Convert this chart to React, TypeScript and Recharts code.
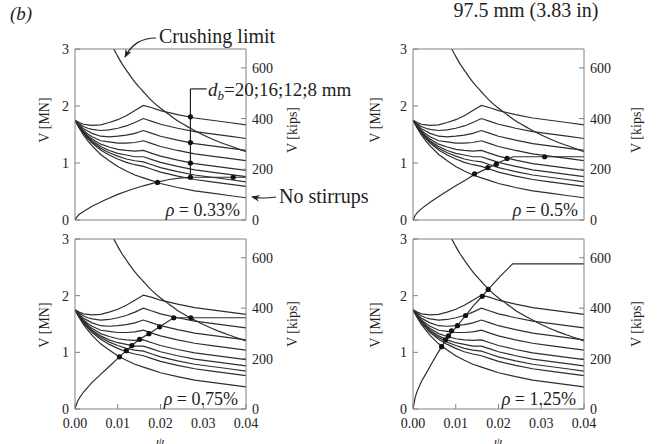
import { ComposedChart, Line, XAxis, YAxis, ReferenceLine } from 'recharts'

// rotation psi [-] and shear V [MN]
const psi = [0, 0.001, 0.002, 0.003, 0.004, 0.006, 0.008, 0.01, 0.012, 0.014, 0.016, 0.018, 0.02, 0.024, 0.028, 0.032, 0.036, 0.04]

// failure criteria (same on every panel)
const noStirrups = [1.75, 1.61, 1.49, 1.39, 1.3, 1.15, 1.04, 0.94, 0.86, 0.79, 0.74, 0.69, 0.64, 0.57, 0.51, 0.47, 0.43, 0.39]
const curveA = [1.75, 1.71, 1.68, 1.67, 1.66, 1.67, 1.71, 1.76, 1.83, 1.92, 2.01, 1.97, 1.92, 1.85, 1.79, 1.75, 1.71, 1.67]
const curveB = [1.75, 1.69, 1.64, 1.61, 1.59, 1.57, 1.58, 1.61, 1.65, 1.71, 1.78, 1.73, 1.68, 1.61, 1.55, 1.51, 1.47, 1.43]
const curveC = [1.75, 1.67, 1.6, 1.56, 1.52, 1.47, 1.46, 1.47, 1.49, 1.52, 1.57, 1.52, 1.47, 1.4, 1.34, 1.3, 1.26, 1.22]
const curveD = [1.75, 1.65, 1.57, 1.51, 1.46, 1.39, 1.37, 1.35, 1.35, 1.36, 1.39, 1.34, 1.29, 1.22, 1.16, 1.12, 1.08, 1.04]
const curveE = [1.75, 1.64, 1.55, 1.48, 1.42, 1.33, 1.28, 1.24, 1.22, 1.21, 1.22, 1.17, 1.12, 1.05, 0.99, 0.95, 0.91, 0.87]
const curveF = [1.75, 1.63, 1.54, 1.46, 1.39, 1.29, 1.22, 1.17, 1.14, 1.11, 1.11, 1.06, 1.01, 0.94, 0.88, 0.84, 0.8, 0.76]
const curveG = [1.75, 1.63, 1.53, 1.44, 1.37, 1.26, 1.18, 1.12, 1.07, 1.04, 1.02, 0.97, 0.92, 0.85, 0.79, 0.75, 0.71, 0.67]
const curveH = [1.75, 1.62, 1.52, 1.43, 1.35, 1.23, 1.14, 1.07, 1.01, 0.97, 0.94, 0.89, 0.84, 0.77, 0.71, 0.67, 0.63, 0.59]

const crushPsi = [0.0085, 0.009, 0.0095, 0.01, 0.011, 0.012, 0.013, 0.014, 0.016, 0.018, 0.02, 0.022, 0.024, 0.027, 0.03, 0.034, 0.037, 0.04]
const crushV = [3.08, 3.01, 2.94, 2.87, 2.74, 2.63, 2.52, 2.42, 2.25, 2.09, 1.96, 1.85, 1.74, 1.61, 1.49, 1.36, 1.28, 1.2]

// load-rotation curves
const rise033Psi = [0, 0.0005, 0.001, 0.002, 0.004, 0.007, 0.01, 0.013, 0.016, 0.019, 0.022, 0.025, 0.027, 0.04]
const rise033V = [0, 0.06, 0.1, 0.15, 0.24, 0.35, 0.45, 0.53, 0.6, 0.66, 0.71, 0.74, 0.75, 0.75]
const rise05Psi = [0, 0.0005, 0.001, 0.002, 0.004, 0.007, 0.01, 0.0125, 0.0144, 0.0175, 0.0195, 0.022, 0.0235, 0.04]
const rise05V = [0, 0.08, 0.13, 0.2, 0.31, 0.46, 0.6, 0.71, 0.8, 0.91, 0.99, 1.07, 1.11, 1.11]
const rise075Psi = [0, 0.0005, 0.001, 0.002, 0.004, 0.006, 0.008, 0.0104, 0.012, 0.0133, 0.0151, 0.0173, 0.0198, 0.0231, 0.04]
const rise075V = [0, 0.12, 0.19, 0.3, 0.47, 0.61, 0.75, 0.92, 1.03, 1.12, 1.23, 1.33, 1.45, 1.61, 1.61]
const rise125Psi = [0, 0.0005, 0.001, 0.002, 0.003, 0.0045, 0.0058, 0.0067, 0.0083, 0.0104, 0.0123, 0.0142, 0.0162, 0.0176, 0.0205, 0.0233, 0.04]
const rise125V = [0, 0.2, 0.32, 0.49, 0.62, 0.82, 0.99, 1.1, 1.29, 1.47, 1.65, 1.83, 1.99, 2.11, 2.35, 2.56, 2.56]

// failure points
const dots033Psi = [0.0193, 0.027, 0.027, 0.027, 0.027, 0.037]
const dots033V = [0.66, 1.81, 1.36, 1.0, 0.75, 0.75]
const dots05Psi = [0.0144, 0.0175, 0.0195, 0.022, 0.0308]
const dots05V = [0.81, 0.92, 0.98, 1.08, 1.11]
const dots075Psi = [0.0104, 0.012, 0.0133, 0.0151, 0.0173, 0.0198, 0.0231, 0.0271]
const dots075V = [0.92, 1.03, 1.12, 1.23, 1.33, 1.45, 1.61, 1.61]
const dots125Psi = [0.0067, 0.0076, 0.0083, 0.009, 0.0104, 0.0123, 0.0162, 0.0176]
const dots125V = [1.1, 1.22, 1.29, 1.38, 1.47, 1.65, 1.99, 2.11]

const xTicks = [0, 0.01, 0.02, 0.03, 0.04]
const mnTicks = [0, 1, 2, 3]
const kipTicks = [0, 200, 400, 600]
const KIPS_AT_3MN = 674.4

const dbLinePsi = 0.027
const dbLineBottom = 0.75
const dbLineTop = 2.3
const dbLeaderEnd = 0.0308

const FONT = '"Liberation Serif", "Times New Roman", serif'
const INK = '#2e2e2e'
const FRAME = '#808080'

const pts = (xs: number[], ys: number[]) => xs.map((x, i) => ({ x, y: ys[i] }))
const families = [curveA, curveB, curveC, curveD, curveE, curveF, curveG, curveH, noStirrups]

interface PanelProps {
  w: number
  h: number
  top: number
  leftW: number
  rightW: number
  bottomH: number
  showX: boolean
  risePsi: number[]
  riseV: number[]
  dotPsi: number[]
  dotV: number[]
  withDb?: boolean
}

function Panel(p: PanelProps) {
  const tickStyle = { fill: '#222', fontSize: 14, fontFamily: FONT, style: { fontFamily: FONT } }
  return (
    <ComposedChart width={p.w} height={p.h} margin={{ top: p.top, right: 0, bottom: 0, left: 0 }}>
      <XAxis xAxisId="b" dataKey="x" type="number" domain={[0, 0.04]} allowDataOverflow ticks={xTicks} interval={0}
        tickFormatter={(v: number) => v.toFixed(2)} tickSize={-5} tickMargin={14} height={p.bottomH}
        stroke={FRAME} tick={p.showX ? tickStyle : false} />
      <XAxis xAxisId="t" orientation="top" dataKey="x" type="number" domain={[0, 0.04]} allowDataOverflow ticks={xTicks}
        interval={0} tickSize={-5} height={1} stroke={FRAME} tick={false} />
      <YAxis yAxisId="mn" type="number" domain={[0, 3]} allowDataOverflow ticks={mnTicks} interval={0} width={p.leftW}
        tickSize={-5} tickMargin={11} stroke={FRAME} tick={tickStyle} />
      <YAxis yAxisId="kips" orientation="right" type="number" domain={[0, KIPS_AT_3MN]} allowDataOverflow ticks={kipTicks}
        interval={0} width={p.rightW} tickSize={-5} tickMargin={11} stroke={FRAME} tick={tickStyle} />
      {families.map((c, i) => (
        <Line key={i} xAxisId="b" yAxisId="mn" data={pts(psi, c)} dataKey="y" type="linear" stroke={INK}
          strokeWidth={1.2} dot={false} isAnimationActive={false} />
      ))}
      <Line xAxisId="b" yAxisId="mn" data={pts(crushPsi, crushV)} dataKey="y" type="monotone" stroke={INK}
        strokeWidth={1.2} dot={false} isAnimationActive={false} />
      <Line xAxisId="b" yAxisId="mn" data={pts(p.risePsi, p.riseV)} dataKey="y" type="linear" stroke={INK}
        strokeWidth={1.2} dot={false} isAnimationActive={false} />
      {p.withDb && (
        <ReferenceLine xAxisId="b" yAxisId="mn" ifOverflow="visible" stroke="#222" strokeWidth={1.2}
          segment={[{ x: dbLinePsi, y: dbLineBottom }, { x: dbLinePsi, y: dbLineTop }]} />
      )}
      {p.withDb && (
        <ReferenceLine xAxisId="b" yAxisId="mn" ifOverflow="visible" stroke="#222" strokeWidth={1.2}
          segment={[{ x: dbLinePsi, y: dbLineTop }, { x: dbLeaderEnd, y: dbLineTop }]} />
      )}
      <Line xAxisId="b" yAxisId="mn" data={pts(p.dotPsi, p.dotV)} dataKey="y" stroke="none"
        dot={{ r: 2.6, fill: '#111', stroke: 'none' }} isAnimationActive={false} />
    </ComposedChart>
  )
}

export default function App() {
  const txt = { fontFamily: FONT, fill: '#1e1e1e', style: { fontFamily: FONT } }
  return (
    <div style={{ position: 'absolute', left: 0, top: 0, width: 657, height: 444, overflow: 'hidden', background: '#fff', fontFamily: FONT }}>
      <div style={{ position: 'absolute', left: 0, top: 0 }}>
        <Panel w={330} h={232} top={48} leftW={75} rightW={84} bottomH={12} showX={false}
          risePsi={rise033Psi} riseV={rise033V} dotPsi={dots033Psi} dotV={dots033V} withDb />
      </div>
      <div style={{ position: 'absolute', left: 330, top: 0 }}>
        <Panel w={327} h={232} top={48} leftW={83} rightW={73} bottomH={12} showX={false}
          risePsi={rise05Psi} riseV={rise05V} dotPsi={dots05Psi} dotV={dots05V} />
      </div>
      <div style={{ position: 'absolute', left: 0, top: 232 }}>
        <Panel w={330} h={212} top={6} leftW={75} rightW={84} bottomH={35} showX
          risePsi={rise075Psi} riseV={rise075V} dotPsi={dots075Psi} dotV={dots075V} />
      </div>
      <div style={{ position: 'absolute', left: 330, top: 232 }}>
        <Panel w={327} h={212} top={6} leftW={83} rightW={73} bottomH={35} showX
          risePsi={rise125Psi} riseV={rise125V} dotPsi={dots125Psi} dotV={dots125V} />
      </div>

      <svg width={657} height={444} style={{ position: 'absolute', left: 0, top: 0, pointerEvents: 'none' }}>
        <defs>
          <marker id="arr" viewBox="0 0 10 10" refX="9" refY="5" markerWidth="7" markerHeight="7" orient="auto">
            <path d="M0,1 L10,5 L0,9 L3,5 z" fill="#222" />
          </marker>
        </defs>
        <text x={10} y={20} fontSize={19} fontStyle="italic" {...txt}>(b)</text>
        <text x={526} y={17} fontSize={20} textAnchor="middle" {...txt}>97.5 mm (3.83 in)</text>

        <text x={159} y={43} fontSize={20} {...txt}>Crushing limit</text>
        <path d="M156,38 C141,38 132,44 125,57" fill="none" stroke="#222" strokeWidth={1.2} markerEnd="url(#arr)" />

        <text x={208} y={96} fontSize={19} {...txt}>
          <tspan fontStyle="italic">d</tspan>
          <tspan fontStyle="italic" fontSize={13} dy={4}>b</tspan>
          <tspan dy={-4}>=20;16;12;8 mm</tspan>
        </text>

        <text x={279} y={203} fontSize={20} {...txt}>No stirrups</text>
        <path d="M276,197 Q263,199 252,197" fill="none" stroke="#222" strokeWidth={1.2} markerEnd="url(#arr)" />

        {[
          { x: 240, y: 216, v: '0.33%' },
          { x: 578, y: 216, v: '0.5%' },
          { x: 238, y: 405, v: '0.75%' },
          { x: 576, y: 405, v: '1.25%' },
        ].map((r) => (
          <text key={r.v} x={r.x} y={r.y} fontSize={18} textAnchor="end" {...txt}>
            <tspan fontStyle="italic">ρ</tspan> = {r.v}
          </text>
        ))}

        {[
          { x: 44, y: 120, t: 'V [MN]' },
          { x: 375, y: 120, t: 'V [MN]' },
          { x: 44, y: 325, t: 'V [MN]' },
          { x: 375, y: 325, t: 'V [MN]' },
          { x: 292, y: 130, t: 'V [kips]' },
          { x: 636, y: 130, t: 'V [kips]' },
          { x: 292, y: 324, t: 'V [kips]' },
          { x: 636, y: 324, t: 'V [kips]' },
        ].map((l, i) => (
          <text key={i} transform={`translate(${l.x},${l.y}) rotate(-90)`} fontSize={14} textAnchor="middle"
            dominantBaseline="central" {...txt}>{l.t}</text>
        ))}

        <text x={160} y={446} fontSize={13} fontStyle="italic" textAnchor="middle" {...txt}>ψ</text>
        <text x={498} y={446} fontSize={13} fontStyle="italic" textAnchor="middle" {...txt}>ψ</text>
      </svg>
    </div>
  )
}
